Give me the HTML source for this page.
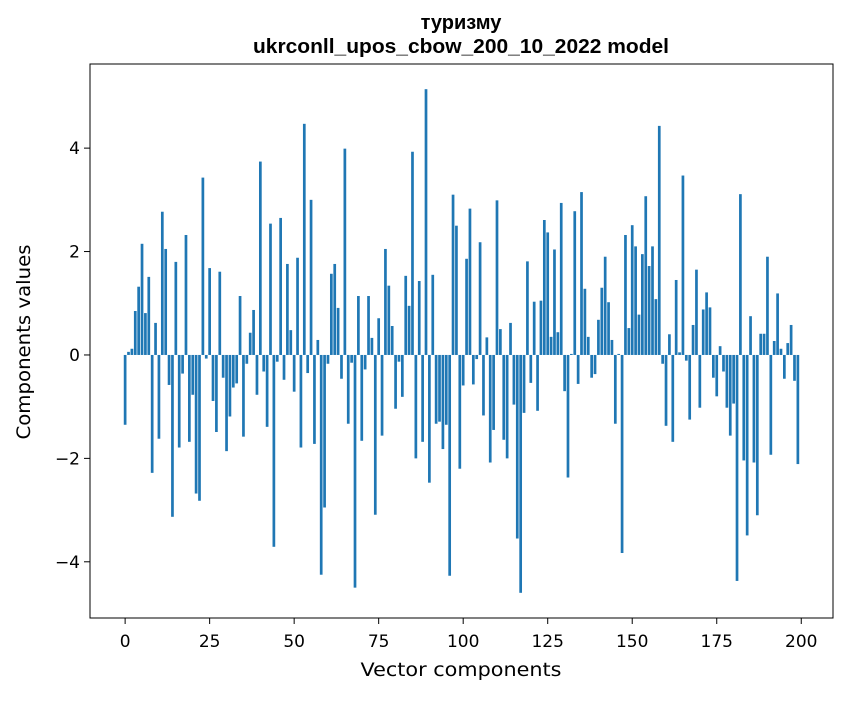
<!DOCTYPE html>
<html><head><meta charset="utf-8"><style>
body{margin:0;background:#fff;}
svg text{font-family:"DejaVu Sans","Liberation Sans",sans-serif;fill:#000;}
svg text.title{font-family:"Liberation Sans","DejaVu Sans",sans-serif;}
</style></head><body>
<svg id="chart" width="847" height="696" xmlns="http://www.w3.org/2000/svg">
<rect width="847" height="696" fill="#fff"/>
<text class="title" x="461" y="29" text-anchor="middle" font-size="20" font-weight="bold">туризму</text>
<text class="title" x="461" y="53" text-anchor="middle" font-size="20" font-weight="bold" textLength="416" lengthAdjust="spacingAndGlyphs">ukrconll_upos_cbow_200_10_2022 model</text>
<g id="bars"></g>
<g id="xticks"></g>
<g id="yticks"></g>
<rect x="90" y="64" width="743" height="554" fill="none" stroke="#000" stroke-width="1"/>
<text x="461" y="676" text-anchor="middle" font-size="19" textLength="201" lengthAdjust="spacingAndGlyphs">Vector components</text>
<text transform="translate(30,342) rotate(-90)" text-anchor="middle" font-size="19" textLength="195" lengthAdjust="spacingAndGlyphs">Components values</text>
</svg>
<script>
const values = [-1.35,0.06,0.12,0.85,1.32,2.15,0.81,1.51,-2.28,0.62,-1.62,2.77,2.05,-0.58,-3.13,1.8,-1.79,-0.36,2.32,-1.68,-0.77,-2.68,-2.82,3.43,-0.07,
1.68,-0.89,-1.49,1.61,-0.44,-1.86,-1.19,-0.63,-0.55,1.14,-1.58,-0.17,0.43,0.87,-0.77,3.74,-0.32,-1.39,2.54,-3.71,-0.13,2.65,-0.48,1.76,0.48,
-0.71,1.88,-1.79,4.47,-0.35,3.0,-1.72,0.29,-4.25,-2.95,-0.17,1.57,1.76,0.91,-0.46,3.99,-1.33,-0.15,-4.5,1.14,-1.66,-0.28,1.14,0.33,-3.09,
0.71,-1.56,2.05,1.34,0.56,-1.04,-0.13,-0.81,1.53,0.95,3.93,-2.0,1.43,-1.68,5.14,-2.47,1.55,-1.33,-1.29,-1.82,-1.35,-4.27,3.1,2.5,-2.2,
-0.59,1.86,2.83,-0.57,-0.08,2.18,-1.17,0.34,-2.08,-1.45,2.99,0.5,-1.64,-2.0,0.62,-0.96,-3.55,-4.6,-1.12,1.81,-0.54,1.03,-1.08,1.05,2.61,
2.37,0.35,2.04,0.44,2.94,-0.7,-2.37,0.02,2.78,-0.56,3.15,1.28,0.35,-0.44,-0.37,0.68,1.3,1.9,1.02,0.29,-1.33,0.02,-3.83,2.32,0.52,
2.51,2.1,0.78,1.95,3.07,1.72,2.1,1.08,4.43,-0.17,-1.37,0.4,-1.68,1.45,0.05,3.47,-0.11,-1.25,0.58,1.65,-1.02,0.88,1.21,0.92,-0.44,
-0.8,0.17,-0.32,-1.02,-1.56,-0.94,-4.37,3.11,-2.04,-3.49,0.75,-2.08,-3.1,0.41,0.41,1.9,-1.93,0.27,1.19,0.12,-0.46,0.23,0.58,-0.5,-2.11];
const xTickValues = [0,25,50,75,100,125,150,175,200];
const yTickValues = [-4,-2,0,2,4];

const NS='http://www.w3.org/2000/svg';
const L=90,R=833,T=64,B=618;
const n=values.length;
const xMin=-0.4-0.05*(n-1+0.8), xMax=n-1+0.4+0.05*(n-1+0.8);
const vMin=Math.min(0,...values), vMax=Math.max(0,...values);
const yMin=vMin-0.05*(vMax-vMin), yMax=vMax+0.05*(vMax-vMin);
const xs=v=>L+(v-xMin)/(xMax-xMin)*(R-L);
const ys=v=>B-(v-yMin)/(yMax-yMin)*(B-T);
const gb=document.getElementById('bars');
values.forEach((v,i)=>{
  const r=document.createElementNS(NS,'rect');
  const x0=xs(i-0.4), x1=xs(i+0.4);
  const y0=ys(Math.max(v,0)), y1=ys(Math.min(v,0));
  r.setAttribute('x',x0);r.setAttribute('width',x1-x0);
  r.setAttribute('y',y0);r.setAttribute('height',Math.max(y1-y0,0.3));
  r.setAttribute('fill','#1f77b4');
  
  
  gb.appendChild(r);
});
const gx=document.getElementById('xticks');
xTickValues.forEach(t=>{
  const x=xs(t);
  const l=document.createElementNS(NS,'line');
  l.setAttribute('x1',x);l.setAttribute('x2',x);l.setAttribute('y1',B);l.setAttribute('y2',B+6);l.setAttribute('stroke','#000');
  
  
  gx.appendChild(l);
  const tx=document.createElementNS(NS,'text');
  tx.setAttribute('x',x);tx.setAttribute('y',B+29);tx.setAttribute('text-anchor','middle');tx.setAttribute('font-size','17');
  tx.textContent=t;
  
  
  gx.appendChild(tx);
});
const gy=document.getElementById('yticks');
yTickValues.forEach(t=>{
  const y=ys(t);
  const l=document.createElementNS(NS,'line');
  l.setAttribute('x1',L-6);l.setAttribute('x2',L);l.setAttribute('y1',y);l.setAttribute('y2',y);l.setAttribute('stroke','#000');
  
  
  gy.appendChild(l);
  const tx=document.createElementNS(NS,'text');
  tx.setAttribute('x',L-10);tx.setAttribute('y',y+6);tx.setAttribute('text-anchor','end');tx.setAttribute('font-size','17');
  tx.textContent=(t<0?'\u2212':'')+Math.abs(t);
  
  
  gy.appendChild(tx);
});
</script>
</body></html>
